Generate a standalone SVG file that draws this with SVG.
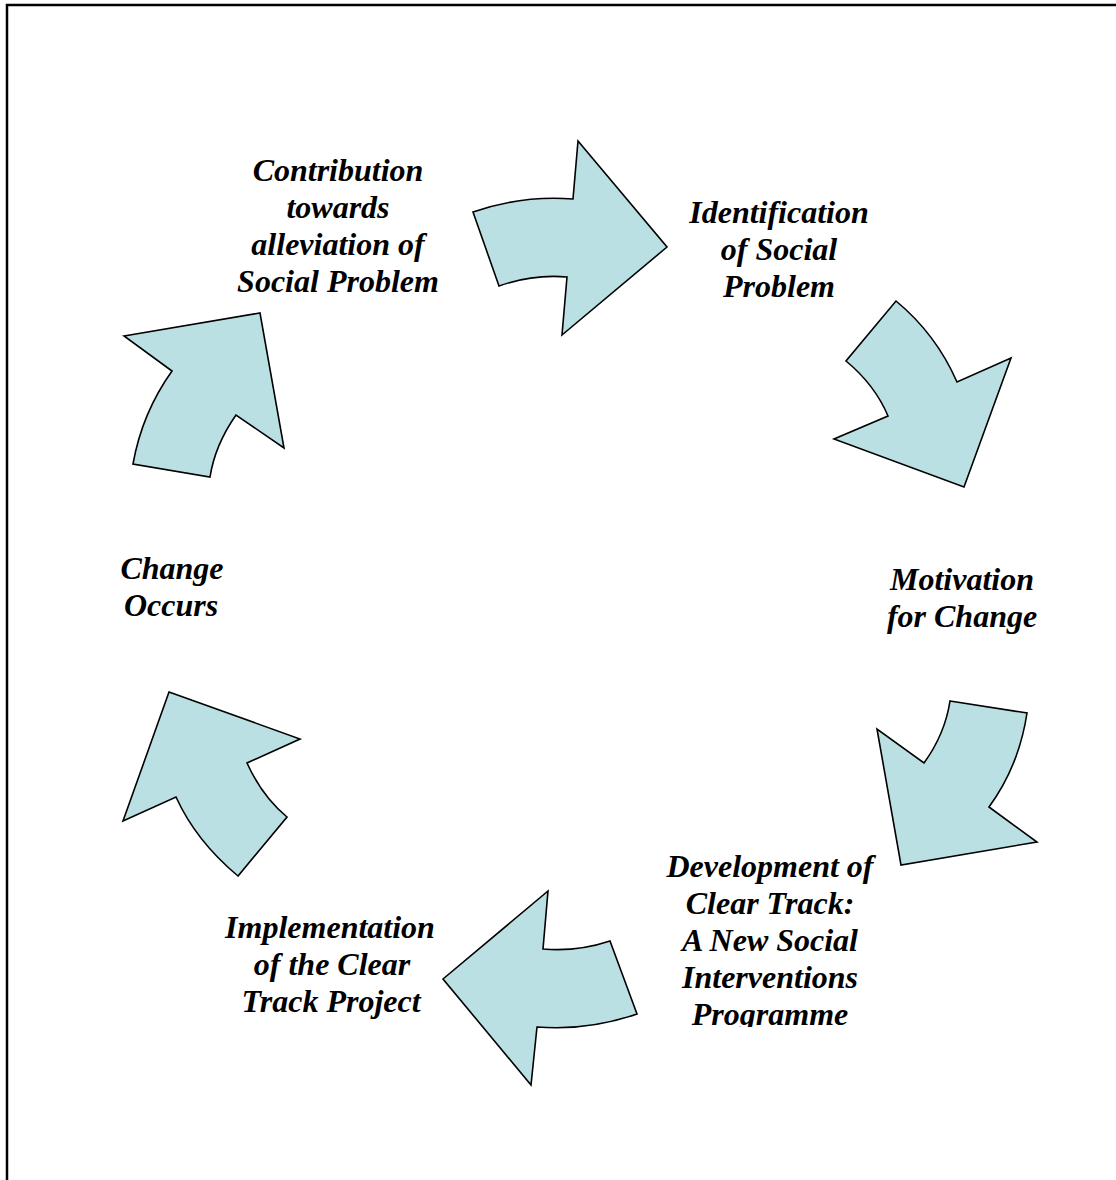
<svg xmlns="http://www.w3.org/2000/svg" width="1116" height="1180" viewBox="0 0 1116 1180">
  <defs>
    <style>
      .frame { fill: #ffffff; stroke: #000000; stroke-width: 2.5; }
      .arrow { fill: #BBE0E3; stroke: #000000; stroke-width: 1.6; stroke-linejoin: miter; }
      .label { font-family: "Liberation Serif", "Times New Roman", serif; font-size: 32px; font-weight: bold; font-style: italic; fill: #000000; text-anchor: middle; }
    </style>
    <clipPath id="clipDev">
      <rect x="600" y="830" width="350" height="197"/>
    </clipPath>
  </defs>

  <!-- page frame (right and bottom edges fall outside the canvas) -->
  <rect class="frame" x="7" y="5" width="1200" height="1300"/>

  <!-- curved cycle arrows -->
  <g id="connectors">
    <path class="arrow" d="M473,212 Q522,195 573,199 L578,141 L667,247 L562,335 L567,277 Q533,274 499,286 Z"/>
    <path class="arrow" d="M896,301 Q936,334 957,382 L1011,358 L964,487 L834,439 L888,416 Q875,385 846,361 Z"/>
    <path class="arrow" d="M950,701 L1027,713 Q1019,766 989,807 L1037,842 L901,865 L877,729 L924,763 Q945,734 950,701 Z"/>
    <path class="arrow" d="M548,891 L543,949 Q577,952 610,941 L637,1014 Q588,1031 537,1027 L531,1085 L443,979 Z"/>
    <path class="arrow" d="M169,692 L300,739 L247,763 Q262,796 287,817 L238,876 Q196,841 176,797 L123,821 Z"/>
    <path class="arrow" d="M124,336 L260,313 L284,448 L236,415 Q215,445 210,477 L133,464 Q142,413 172,371 Z"/>
  </g>

  <g id="node-contribution">
    <text class="label" x="338" y="181">Contribution</text>
    <text class="label" x="338" y="218">towards</text>
    <text class="label" x="338" y="255">alleviation of</text>
    <text class="label" x="338" y="292">Social Problem</text>
  </g>

  <g id="node-identification">
    <text class="label" x="779" y="223">Identification</text>
    <text class="label" x="779" y="260">of Social</text>
    <text class="label" x="779" y="297">Problem</text>
  </g>

  <g id="node-motivation">
    <text class="label" x="962" y="590">Motivation</text>
    <text class="label" x="962" y="627">for Change</text>
  </g>

  <g id="node-development" clip-path="url(#clipDev)">
    <text class="label" x="770" y="877">Development of</text>
    <text class="label" x="770" y="914">Clear Track:</text>
    <text class="label" x="770" y="951">A New Social</text>
    <text class="label" x="770" y="988">Interventions</text>
    <text class="label" x="770" y="1025">Programme</text>
  </g>

  <g id="node-implementation">
    <text class="label" x="330" y="938">Implementation</text>
    <text class="label" x="332" y="975">of the Clear</text>
    <text class="label" x="331" y="1012">Track Project</text>
  </g>

  <g id="node-change">
    <text class="label" x="172" y="579">Change</text>
    <text class="label" x="171" y="616">Occurs</text>
  </g>
</svg>
